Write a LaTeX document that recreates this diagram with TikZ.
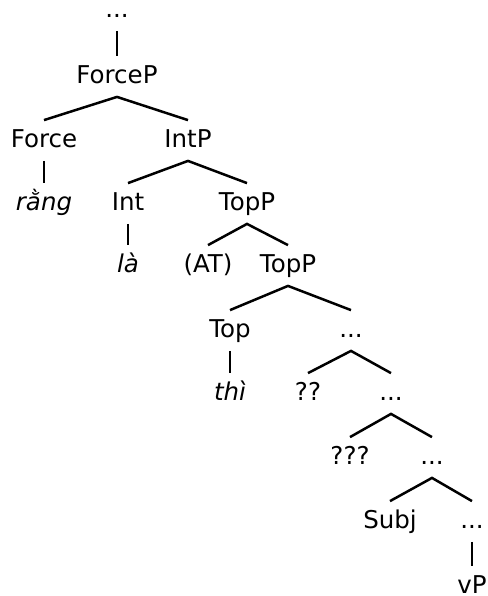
\documentclass[tikz,border=0pt]{standalone}
\usepackage{fontspec}
\setmainfont{DejaVu Sans}

\begin{document}
\begin{tikzpicture}[x=0.5pt, y=-0.5pt, every node/.style={anchor=base, font=\fontsize{12.25}{14}\selectfont, text height=9pt, text depth=2.5pt, inner xsep=1pt, inner ysep=4.25pt}, wd/.style={font=\fontsize{12.25}{14}\selectfont\itshape}, br/.style={line width=1.25pt}]
\useasboundingbox (0,0) rectangle (488,596);
% labels, one row per level
\node (dots0) at (117,17) {...};
\node (forcep) at (117,83) {ForceP};
\node (force) at (44,147) {Force};
\node (intp) at (188,147) {IntP};
\node[wd] (rang) at (44,210) {rằng};
\node (int) at (128,210) {Int};
\node (topp1) at (247,210) {TopP};
\node[wd] (la) at (128,272) {là};
\node (at) at (208,272) {(AT)};
\node (topp2) at (288,272) {TopP};
\node (top) at (230,337) {Top};
\node (dots1) at (351,337) {...};
\node[wd] (thi) at (230,400) {thì};
\node (q2) at (308,400) {??};
\node (dots2) at (391,400) {...};
\node (q3) at (350,464) {???};
\node (dots3) at (432,464) {...};
\node (subj) at (390,528) {Subj};
\node (dots4) at (472,528) {...};
\node (vp) at (472,593) {vP};
% branches
\draw[br] (dots0.south)--(forcep.north);
\draw[br] (force.north)--(forcep.south)--(intp.north);
\draw[br] (force.south)--(rang.north);
\draw[br] (int.north)--(intp.south)--(topp1.north);
\draw[br] (int.south)--(la.north);
\draw[br] (at.north)--(topp1.south)--(topp2.north);
\draw[br] (top.north)--(topp2.south)--(dots1.north);
\draw[br] (top.south)--(thi.north);
\draw[br] (q2.north)--(dots1.south)--(dots2.north);
\draw[br] (q3.north)--(dots2.south)--(dots3.north);
\draw[br] (subj.north)--(dots3.south)--(dots4.north);
\draw[br] (dots4.south)--(vp.north);
\end{tikzpicture}
\end{document}
